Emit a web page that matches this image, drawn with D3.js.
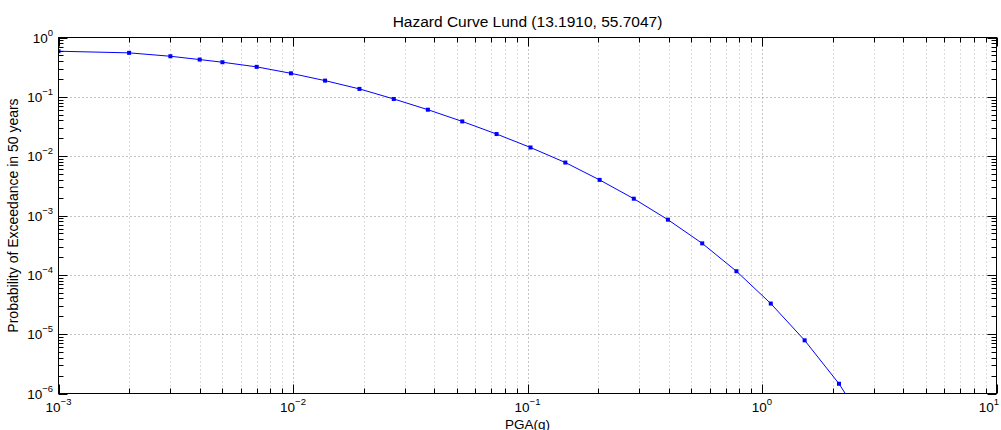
<!DOCTYPE html>
<html>
<head>
<meta charset="utf-8">
<script src="https://cdn.jsdelivr.net/npm/d3@7"></script>
<style>
  html, body { margin: 0; padding: 0; background: #fff; }
  svg { display: block; font-family: "Liberation Sans", Arial, Helvetica, sans-serif; }
</style>
</head>
<body>
<svg id="chart" width="1001" height="430"></svg>
<script>
// ---- data ----
const pga = [0.001, 0.002, 0.003, 0.004, 0.005, 0.007, 0.0098, 0.0137, 0.0192, 0.0269, 0.0376,
             0.0527, 0.0738, 0.103, 0.145, 0.203, 0.284, 0.397, 0.556, 0.778, 1.09, 1.52, 2.13, 2.99];
const poe = [0.587, 0.551, 0.483, 0.425, 0.383, 0.32, 0.249, 0.1876, 0.136, 0.092, 0.0607,
             0.0385, 0.0236, 0.0140, 0.00781, 0.00398, 0.00192, 8.5e-4, 3.39e-4, 1.15e-4, 3.28e-5, 7.87e-6, 1.46e-6, 1.8e-7];
const xDecades = [1e-3, 1e-2, 1e-1, 1, 10];
const xExponents = ["−3", "−2", "−1", "0", "1"];
const yDecades = [1e-6, 1e-5, 1e-4, 1e-3, 1e-2, 1e-1, 1];
const yExponents = ["−6", "−5", "−4", "−3", "−2", "−1", "0"];
const minorMultipliers = [2, 3, 4, 5, 6, 7, 8, 9];
const titleText = "Hazard Curve Lund (13.1910, 55.7047)";
const xLabelText = "PGA(g)";
const yLabelText = "Probability of Exceedance in 50 years";

// ---- layout ----
const L = 58.5, R = 996.5, T = 37.5, B = 393.5;
const svg = d3.select("#chart");
const x = d3.scaleLog().domain([1e-3, 10]).range([L, R]);
const y = d3.scaleLog().domain([1e-6, 1]).range([B, T]);

const minorOf = decs => decs.slice(0, -1).flatMap(d => minorMultipliers.map(m => d * m));
const xMinor = minorOf(xDecades);
const yMinor = minorOf(yDecades);

// grid
const grid = svg.append("g");
grid.selectAll("line.gx").data(xMinor).join("line")
  .attr("x1", d => Math.round(x(d)) + 0.5).attr("x2", d => Math.round(x(d)) + 0.5)
  .attr("y1", T).attr("y2", B)
  .attr("stroke", "#b8b8b8").attr("stroke-width", 1).attr("stroke-dasharray", "1,3");
grid.selectAll("line.gX").data(xDecades.slice(1, -1)).join("line")
  .attr("x1", d => Math.round(x(d)) + 0.5).attr("x2", d => Math.round(x(d)) + 0.5)
  .attr("y1", T).attr("y2", B)
  .attr("stroke", "#888").attr("stroke-width", 1).attr("stroke-dasharray", "1,3");
grid.selectAll("line.gy").data(yDecades.slice(1, -1)).join("line")
  .attr("y1", d => Math.round(y(d)) + 0.5).attr("y2", d => Math.round(y(d)) + 0.5)
  .attr("x1", L).attr("x2", R)
  .attr("stroke", "#888").attr("stroke-width", 1).attr("stroke-dasharray", "1,3");

// curve
svg.append("defs").append("clipPath").attr("id", "clip")
  .append("rect").attr("x", L).attr("y", T).attr("width", R - L).attr("height", B - T);
const pts = pga.map((v, i) => [v, poe[i]]);
const plot = svg.append("g").attr("clip-path", "url(#clip)");
plot.append("path").datum(pts)
  .attr("fill", "none").attr("stroke", "#0000ff").attr("stroke-width", 1)
  .attr("d", d3.line().x(d => x(d[0])).y(d => y(d[1])));
plot.selectAll("rect.m").data(pts).join("rect")
  .attr("x", d => x(d[0]) - 2).attr("y", d => y(d[1]) - 2)
  .attr("width", 4).attr("height", 4).attr("fill", "#0000ff");

// ticks
const ax = svg.append("g").attr("stroke", "#000").attr("stroke-width", 1);
const MAJ = 9, MIN = 5;
function xt(vals, len) {
  vals.forEach(v => {
    const px = Math.round(x(v)) + 0.5;
    ax.append("line").attr("x1", px).attr("x2", px).attr("y1", B).attr("y2", B - len);
    ax.append("line").attr("x1", px).attr("x2", px).attr("y1", T).attr("y2", T + len);
  });
}
function yt(vals, len) {
  vals.forEach(v => {
    const py = Math.round(y(v)) + 0.5;
    ax.append("line").attr("y1", py).attr("y2", py).attr("x1", L).attr("x2", L + len);
    ax.append("line").attr("y1", py).attr("y2", py).attr("x1", R).attr("x2", R - len);
  });
}
xt(xMinor, MIN); xt(xDecades, MAJ);
yt(yMinor, MIN); yt(yDecades, MAJ);

// box
svg.append("rect").attr("x", L).attr("y", T).attr("width", R - L).attr("height", B - T)
  .attr("fill", "none").attr("stroke", "#000").attr("stroke-width", 1);

// tick labels
const lab = svg.append("g").attr("fill", "#000");
xDecades.forEach((v, i) => {
  const last = i === xDecades.length - 1;
  const t = lab.append("text").attr("x", last ? 999 : x(v)).attr("y", 412)
    .attr("text-anchor", last ? "end" : "middle").attr("font-size", 13.5);
  t.append("tspan").text("10");
  t.append("tspan").attr("dy", -7).attr("font-size", 9.5).text(xExponents[i]);
});
yDecades.forEach((v, i) => {
  const t = lab.append("text").attr("x", 53).attr("y", y(v) + 5)
    .attr("text-anchor", "end").attr("font-size", 13.5);
  t.append("tspan").text("10");
  t.append("tspan").attr("dy", -7).attr("font-size", 9.5).text(yExponents[i]);
});

// titles
svg.append("text").attr("x", (L + R) / 2).attr("y", 27).attr("text-anchor", "middle")
  .attr("font-size", 15.5).text(titleText);
svg.append("text").attr("x", (L + R) / 2).attr("y", 428.5).attr("text-anchor", "middle")
  .attr("font-size", 13.5).text(xLabelText);
svg.append("text").attr("transform", `translate(18,${(T + B) / 2}) rotate(-90)`)
  .attr("text-anchor", "middle").attr("font-size", 14).text(yLabelText);
</script>
</body>
</html>
